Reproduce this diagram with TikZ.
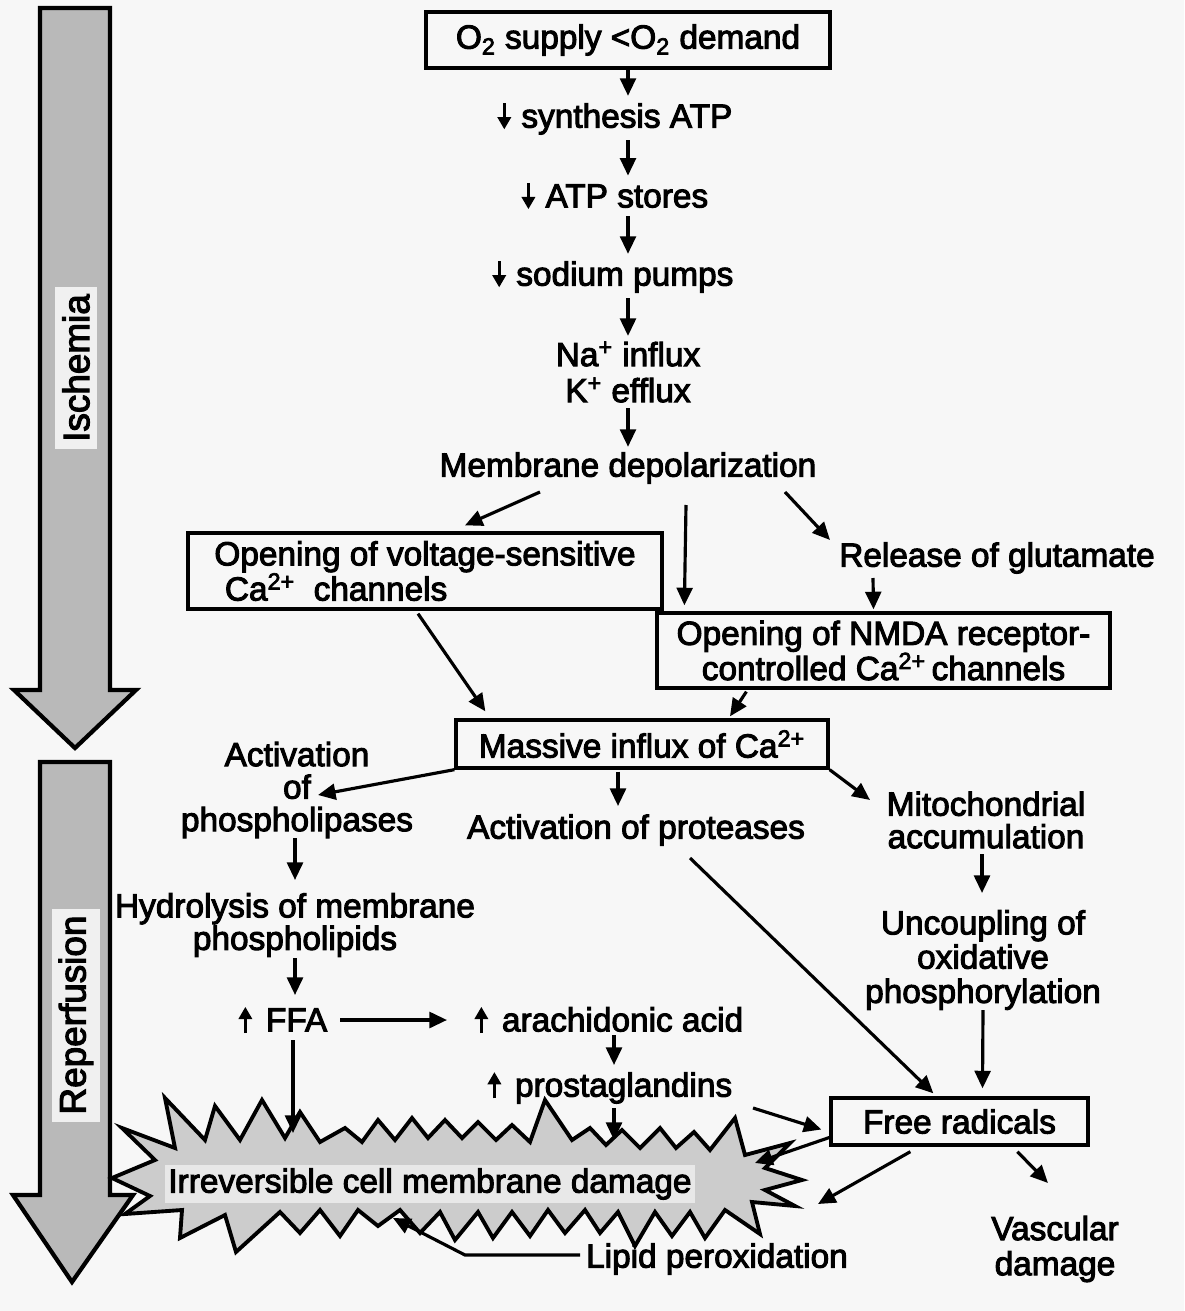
\documentclass[tikz,border=0pt]{standalone}
\usepackage{fontspec}
\setmainfont{Liberation Sans}[UprightFeatures={FakeBold=3}]
\usetikzlibrary{arrows.meta,calc}
\newcommand{\dnar}{\tikz[baseline=0pt]\draw[line width=1.8pt,-{Triangle[length=7pt,width=7.5pt]}] (0,14pt)--(0,-1pt);}
\newcommand{\upar}{\tikz[baseline=0pt]\draw[line width=1.8pt,-{Triangle[length=7pt,width=7.5pt]}] (0,-1pt)--(0,14pt);}
\begin{document}
\begin{tikzpicture}[x=0.02cm,y=-0.02cm,
  txt/.style={font=\fontsize{19}{18.5}\selectfont, align=center, inner sep=3pt},
  box/.style={txt, draw, line width=1.9pt},
  conn/.style={line width=1.8pt, -{Triangle[length=10pt,width=9pt]}},
  bigarrow/.style={draw, line width=2.4pt, fill=gray!55, line join=miter},
  burst/.style={draw, line width=2.2pt, fill=gray!40, line join=miter, miter limit=20},
  lbl/.style={font=\fontsize{21}{21}\selectfont, rotate=90, fill=gray!12, inner sep=4pt}]
\fill[gray!6] (0,0) rectangle (1184,1311);
\useasboundingbox (0,0) rectangle (1184,1311);
% big phase arrows
\draw[bigarrow] (40,8) -- (110,8) -- (110,690) -- (136,690) -- (75,748) -- (14,690) -- (40,690) -- cycle;
\node[lbl] (isch) at (76,368) {Ischemia};
\draw[bigarrow] (40,762) -- (110,762) -- (110,1195) -- (133,1195) -- (72,1282) -- (13,1195) -- (40,1195) -- cycle;
\node[lbl] (rep) at (76,1015) {Reperfusion};
% starburst
\draw[burst] (112,1178) -- (155,1160) -- (122,1128) -- (175,1148) -- (165,1098) -- (205,1140) -- (215,1106) -- (240,1140) -- (262,1100) -- (285,1138) -- (300,1112) -- (320,1142) -- (345,1128) -- (362,1142) -- (378,1120) -- (395,1140) -- (412,1118) -- (428,1138) -- (445,1120) -- (462,1138) -- (478,1122) -- (496,1140) -- (512,1125) -- (530,1142) -- (545,1100) -- (572,1140) -- (590,1128) -- (606,1145) -- (622,1130) -- (640,1148) -- (660,1128) -- (676,1148) -- (694,1132) -- (710,1150) -- (735,1118) -- (745,1155) -- (790,1143) -- (765,1168) -- (802,1180) -- (765,1190) -- (795,1206) -- (752,1202) -- (760,1234) -- (725,1210) -- (705,1238) -- (690,1212) -- (672,1236) -- (655,1212) -- (635,1246) -- (618,1212) -- (600,1233) -- (585,1210) -- (565,1233) -- (548,1210) -- (530,1236) -- (512,1212) -- (493,1238) -- (478,1212) -- (455,1240) -- (440,1212) -- (420,1233) -- (400,1210) -- (378,1226) -- (358,1210) -- (340,1236) -- (320,1210) -- (300,1233) -- (280,1212) -- (236,1252) -- (225,1215) -- (180,1238) -- (182,1210) -- (125,1214) -- (150,1196) -- cycle;
\node[txt, fill=gray!18, inner sep=2pt] (dmgt) at (430,1184) {Irreversible cell membrane damage};
% nodes
\node[box, minimum width=8.08cm, minimum height=1.12cm] (o2) at (628,40) {O\textsubscript{2} supply <O\textsubscript{2} demand};
\node[txt] (syn) at (615,118) {\dnar\hspace{6pt}synthesis ATP};
\node[txt] (atp) at (615,196) {\dnar\hspace{6pt}ATP stores};
\node[txt] (sod) at (613,276) {\dnar\hspace{6pt}sodium pumps};
\node[txt, font=\fontsize{19}{20.5}\selectfont] (nak) at (628,372) {Na\textsuperscript{+} influx\\K\textsuperscript{+} efflux};
\node[txt] (mem) at (628,468) {Membrane depolarization};
\node[box, align=left, minimum width=9.48cm, minimum height=1.52cm, font=\fontsize{19}{20}\selectfont] (vbox) at (425,571) {Opening of voltage-sensitive\\\hspace{6pt}Ca\textsuperscript{2+}\ \ channels};
\node[txt] (glu) at (997,558) {Release of glutamate};
\node[box, minimum width=9.06cm, minimum height=1.5cm, font=\fontsize{19}{20}\selectfont] (nmda) at (883.5,650.5) {Opening of NMDA receptor-\\controlled Ca\textsuperscript{2+}\,channels};
\node[box, minimum width=7.44cm, minimum height=0.96cm] (mas) at (642,744) {Massive influx of Ca\textsuperscript{2+}};
\node[txt] (phos) at (297,790) {Activation\\of\\phospholipases};
\node[txt] (prot) at (636,830) {Activation of proteases};
\node[txt] (mito) at (986,820) {Mitochondrial\\accumulation};
\node[txt, font=\fontsize{19}{19.5}\selectfont] (unc) at (983,960) {Uncoupling of\\oxidative\\phosphorylation};
\node[txt] (hyd) at (295,925) {Hydrolysis of membrane\\phospholipids};
\node[txt] (ffa) at (283,1020) {\upar\hspace{8pt}FFA};
\node[txt] (ara) at (609,1020) {\upar\hspace{8pt}arachidonic acid};
\node[txt] (pros) at (610,1087) {\upar\hspace{8pt}prostaglandins};
\node[box, minimum width=5.14cm, minimum height=0.94cm] (free) at (959.5,1121.5) {Free radicals};
\node[txt, font=\fontsize{19}{20}\selectfont] (vasc) at (1055,1249) {Vascular\\damage};
\node[txt] (lip) at (717,1259) {Lipid peroxidation};
% connectors
\draw[conn] (o2.south) -- (o2.south |- syn.north);
\draw[conn] (o2.south |- syn.south) -- (o2.south |- atp.north);
\draw[conn] (o2.south |- atp.south) -- (o2.south |- sod.north);
\draw[conn] (o2.south |- sod.south) -- (nak.north);
\draw[conn] (nak.south) -- (mem.north);
\draw[conn] ($(mem.center)+(-88,24)$) -- ($(vbox.north)+(40,-6)$);
\draw[conn] ($(mem.center)+(58,37)$) -- ($(nmda.north west)+(29,-6)$);
\draw[conn] ($(mem.center)+(157,24)$) -- ($(glu.center)+(-167,-18)$);
\draw[conn] ($(glu.center)+(-124,20)$) -- ($(nmda.north)+(-10,-2)$);
\draw[conn] ($(vbox.south)+(-7,3)$) -- ($(mas.north west)+(31,-7)$);
\draw[conn] ($(nmda.south west)+(91,2)$) -- ($(mas.north)+(88,-2)$);
\draw[conn] (mas.south west) -- ($(phos.center)+(21,5)$);
\draw[conn] ($(mas.south)+(-24,2)$) -- ($(prot.center)+(-18,-24)$);
\draw[conn] (mas.south east) -- ($(mito.center)+(-116,-20)$);
\draw[conn] ($(mito.center)+(-4,34)$) -- ($(unc.center)+(-1,-67)$);
\draw[conn] ($(unc.center)+(0,50)$) -- ($(free.north)+(23,-8)$);
\draw[conn] ($(prot.center)+(54,28)$) -- ($(free.north west)+(104,-3)$);
\draw[conn] ($(phos.center)+(-2,48)$) -- ($(hyd.center)+(0,-45)$);
\draw[conn] ($(hyd.center)+(0,33)$) -- ($(ffa.center)+(12,-25)$);
\draw[conn] ($(ffa.center)+(57,0)$) -- ($(ara.center)+(-162,0)$);
\draw[conn] ($(ara.center)+(5,15)$) -- ($(pros.center)+(4,-22)$);
\draw[conn] ($(pros.center)+(4,21)$) -- ($(dmgt.center)+(184,-44)$);
\draw[conn] ($(ffa.center)+(10,20)$) -- ($(dmgt.center)+(-137,-51)$);
\draw[conn] ($(pros.center)+(143,21)$) -- ($(free.west)+(-8,8)$);
\draw[conn] ($(free.west)+(0,16)$) -- ($(dmgt.center)+(325,-21)$);
\draw[conn] ($(free.south west)+(81,5)$) -- ($(lip.center)+(101,-55)$);
\draw[conn] ($(free.south west)+(188,5)$) -- ($(vasc.center)+(-7,-66)$);
\draw[conn] ($(lip.center)+(-137,-4)$) -- ++(-115,0) -- ($(dmgt.center)+(-37,34)$);
\end{tikzpicture}
\end{document}
